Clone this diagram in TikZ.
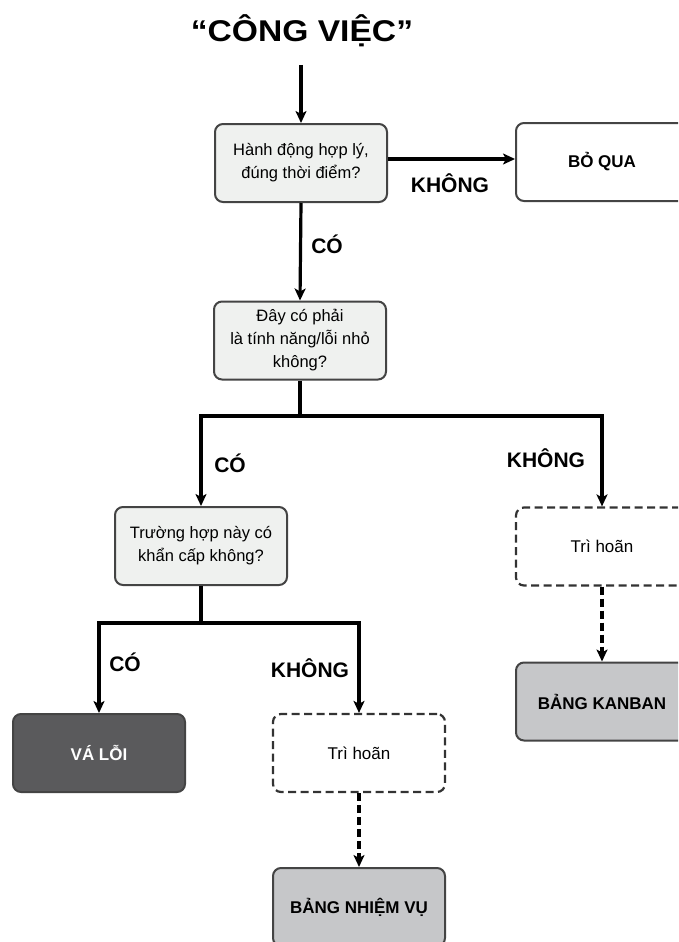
\documentclass[tikz,border=0pt]{standalone}
\usepackage{fontspec}
\setmainfont{Liberation Sans}
\newfontfamily\widefont[FakeStretch=1.12]{Liberation Sans}
\usetikzlibrary{arrows.meta}
\definecolor{qfill}{HTML}{EFF1EF}
\definecolor{bord}{HTML}{444444}
\definecolor{gfill}{HTML}{C6C7C9}
\definecolor{dfill}{HTML}{5A5A5C}
\tikzset{
  box/.style={draw=bord, line width=2pt, rounded corners=8pt, minimum width=172pt, minimum height=78pt, align=center, inner sep=4pt},
  qbox/.style={box, fill=qfill, font=\fontsize{16.5}{23}\selectfont},
  dbox/.style={box, dashed, dash pattern=on 8pt off 4.5pt, line width=2.2pt, draw=black!80, fill=white, font=\fontsize{17}{23}\selectfont},
  gbox/.style={box, fill=gfill, font=\bfseries\fontsize{17}{20}\selectfont},
  wbox/.style={box, fill=white, font=\bfseries\fontsize{17}{20}\selectfont},
  vbox/.style={box, fill=dfill, text=white, font=\bfseries\fontsize{17}{20}\selectfont},
  arr/.style={draw=black, line width=3.2pt, -{Stealth[length=12pt,width=11pt,inset=3pt]}},
  line/.style={draw=black, line width=3.2pt},
  darr/.style={arr, dash pattern=on 8pt off 4pt},
  lbl/.style={font=\bfseries\fontsize{21}{24}\selectfont, inner sep=0pt},
  ttl/.style={font=\widefont\bfseries\fontsize{30}{34}\selectfont, inner sep=0pt}
}
\begin{document}
\begin{tikzpicture}[x=1pt, y=-1pt]
\useasboundingbox (0,0) rectangle (678,942);
\clip (0,0) rectangle (678,942);
\fill[white] (0,0) rectangle (678,942);
% nodes
\node[ttl] (title) at (302,31) {“CÔNG VIỆC”};
\node[qbox] (q1) at (301,163) {Hành động hợp lý,\\đúng thời điểm?};
\node[wbox] (skip) at (602,162) {BỎ QUA};
\node[qbox] (q2) at (300,340.5) {Đây có phải\\là tính năng/lỗi nhỏ\\không?};
\node[qbox] (q3) at (201,546) {Trường hợp này có\\khẩn cấp không?};
\node[dbox] (d1) at (602,546.5) {Trì hoãn};
\node[gbox] (kanban) at (602,701.5) {BẢNG KANBAN};
\node[vbox] (fix) at (99,753) {VÁ LỖI};
\node[dbox] (d2) at (359,753) {Trì hoãn};
\node[gbox] (task) at (359,907) {BẢNG NHIỆM VỤ};
% labels
\node[lbl] (l1) at (450,183) {KHÔNG};
\node[lbl] (l2) at (327,244) {CÓ};
\node[lbl] (l3) at (230,463) {CÓ};
\node[lbl] (l4) at (546,458) {KHÔNG};
\node[lbl] (l5) at (125,662) {CÓ};
\node[lbl] (l6) at (310,668) {KHÔNG};
% connectors
\coordinate (start) at (301,65);
\draw[arr] (start) -- (q1.north);
\draw[arr] ([yshift=4pt]q1.east) -- ([yshift=4pt]q1.east -| skip.west);
\draw[arr] (q1.south) -- (q2.north);
\coordinate (j1) at (300,416);
\draw[line] (q2.south) -- (j1);
\draw[arr] (j1) -| (q3.north);
\draw[arr] (j1) -| (d1.north);
\draw[darr] (d1.south) -- (kanban.north);
\coordinate (j2) at (201,623);
\draw[line] (q3.south) -- (j2);
\draw[arr] (j2) -| (fix.north);
\draw[arr] (j2) -| (d2.north);
\draw[darr] (d2.south) -- (task.north);
\end{tikzpicture}
\end{document}
